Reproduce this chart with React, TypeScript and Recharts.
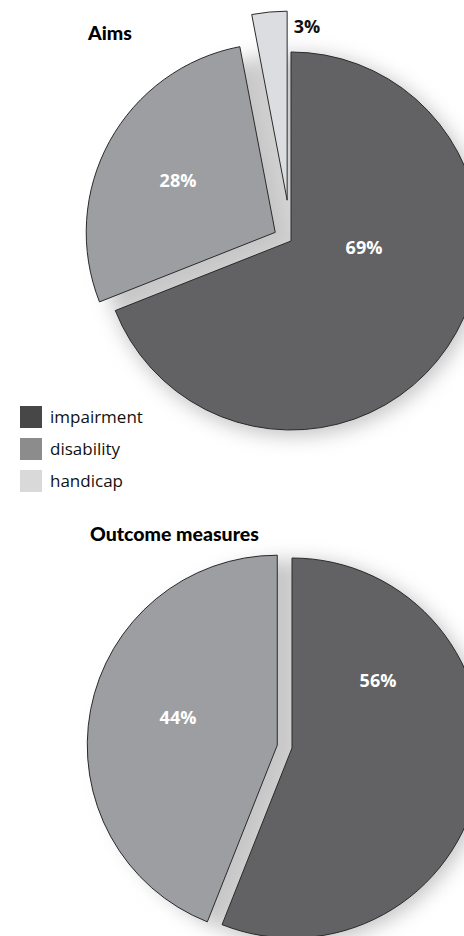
import { Cell, Pie, PieChart } from 'recharts';

const CATEGORIES = ['impairment', 'disability', 'handicap'];
const AIMS_VALUES = [69, 28, 3];
const OUTCOME_VALUES = [56, 44];

const SLICE_COLORS = ['#626264', '#9d9ea2', '#dcdde0'];
const LEGEND_COLORS = ['#474747', '#8c8c8c', '#d9d9d9'];
const STROKE = '#2a2a2a';
const SHADOW = '#c6c6c6';

// how far each slice is pulled out of its pie, px
const AIMS_EXPLODE = [0, 18, 41];
const OUTCOME_EXPLODE = [0, 15];

// label anchors relative to the pie centre
const AIMS_LABEL_OFFSET = [
  [73, 6],
  [-113, -61],
  [16, -215],
];
const OUTCOME_LABEL_OFFSET = [
  [86, -68],
  [-114, -31],
];
const AIMS_LABEL_COLOR = ['#fff', '#fff', '#111'];
const OUTCOME_LABEL_COLOR = ['#fff', '#fff'];

const FONT = '"Open Sans", "DejaVu Sans", sans-serif';

function buildRows(values: number[]) {
  return values.map((v, i) => ({ name: CATEGORIES[i], value: v }));
}

function explodedPie(
  id: string,
  values: number[],
  cx: number,
  cy: number,
  r: number,
  explode: number[],
  labelOffset: number[][],
  labelColor: string[],
) {
  const rows = buildRows(values);
  const total = values.reduce((a, b) => a + b, 0);
  let acc = 0;
  const pies = rows.map((row, i) => {
    const mid = ((acc + row.value / 2) / total) * Math.PI * 2;
    acc += row.value;
    const dx = explode[i] * Math.sin(mid);
    const dy = -explode[i] * Math.cos(mid);
    return (
      <Pie
        key={`${id}-${i}`}
        data={rows}
        dataKey="value"
        nameKey="name"
        cx={cx + dx}
        cy={cy + dy}
        outerRadius={r}
        startAngle={90}
        endAngle={-270}
        isAnimationActive={false}
        labelLine={false}
        label={(p: any) =>
          p.index === i ? (
            <text
              x={cx + labelOffset[i][0]}
              y={cy + labelOffset[i][1]}
              textAnchor="middle"
              dominantBaseline="central"
              fill={labelColor[i]}
              style={{ fontFamily: FONT, fontWeight: 700, fontSize: 18 }}
            >
              {`${row.value}%`}
            </text>
          ) : (
            <g />
          )
        }
      >
        {rows.map((_, j) => (
          <Cell
            key={j}
            fill={j === i ? SLICE_COLORS[j] : 'none'}
            stroke={j === i ? STROKE : 'none'}
            strokeWidth={1}
          />
        ))}
      </Pie>
    );
  });

  return [
    <Pie
      key={`${id}-shadow`}
      className="pie-shadow"
      data={rows}
      dataKey="value"
      cx={cx + 3}
      cy={cy + 4}
      outerRadius={r + 2}
      startAngle={90}
      endAngle={-270}
      isAnimationActive={false}
    >
      {rows.map((_, j) => (
        <Cell key={j} fill={SHADOW} stroke={SHADOW} strokeWidth={1} />
      ))}
    </Pie>,
    ...pies,
  ];
}

const titleStyle = {
  position: 'absolute' as const,
  fontFamily: 'Lato, sans-serif',
  fontWeight: 900,
  fontSize: 19.5,
  lineHeight: '20px',
  color: '#000',
};

export default function App() {
  return (
    <div style={{ position: 'relative', width: 464, height: 936, background: '#fff', overflow: 'hidden' }}>
      <style>{`body{margin:0} .pie-shadow{filter:blur(7px)}`}</style>
      <PieChart width={464} height={936} margin={{ top: 0, right: 0, bottom: 0, left: 0 }}>
        {explodedPie('aims', AIMS_VALUES, 291, 241, 189, AIMS_EXPLODE, AIMS_LABEL_OFFSET, AIMS_LABEL_COLOR)}
        {explodedPie(
          'outcome',
          OUTCOME_VALUES,
          292,
          748,
          190,
          OUTCOME_EXPLODE,
          OUTCOME_LABEL_OFFSET,
          OUTCOME_LABEL_COLOR,
        )}
      </PieChart>

      <div style={{ ...titleStyle, left: 88, top: 23 }}>Aims</div>
      <div style={{ ...titleStyle, left: 90, top: 524 }}>Outcome measures</div>

      <div style={{ position: 'absolute', left: 20, top: 406, fontFamily: FONT, fontSize: 17, color: '#111' }}>
        {CATEGORIES.map((c, i) => (
          <div key={c} style={{ display: 'flex', alignItems: 'center', height: 22, marginBottom: 10 }}>
            <span style={{ width: 22, height: 22, background: LEGEND_COLORS[i], marginRight: 8 }} />
            <span style={{ lineHeight: '22px' }}>{c}</span>
          </div>
        ))}
      </div>
    </div>
  );
}
